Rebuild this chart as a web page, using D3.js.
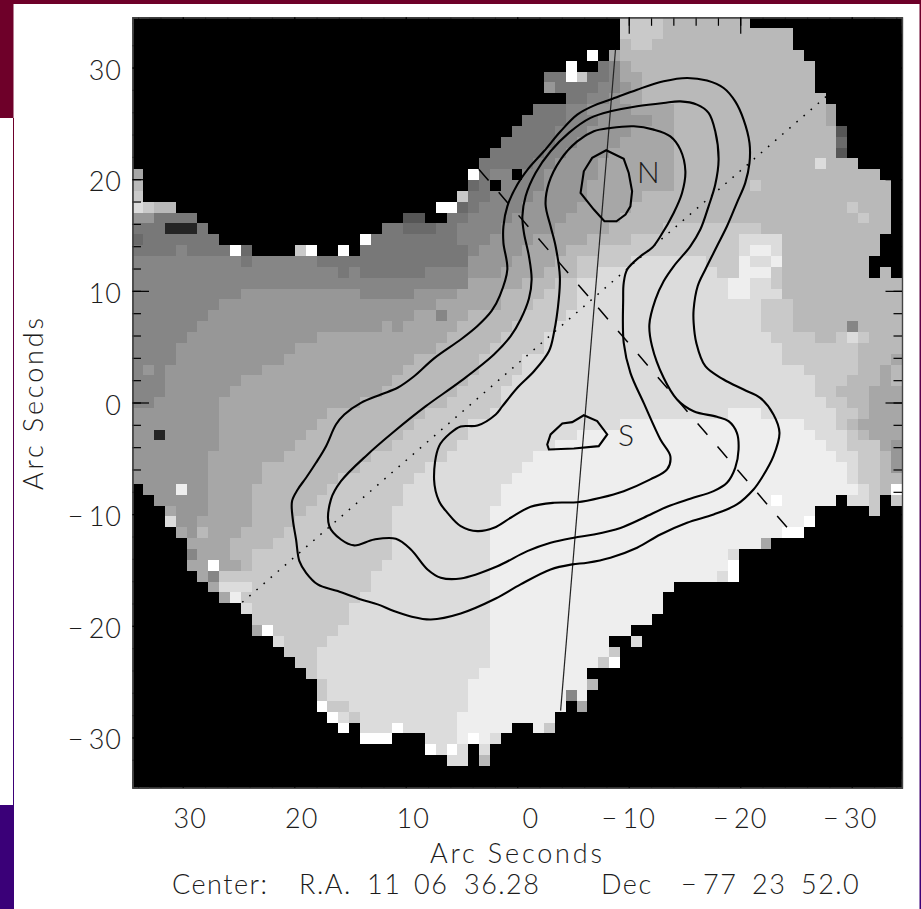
<!DOCTYPE html>
<html>
<head>
<meta charset="utf-8">
<title>Arc Seconds map</title>
<script src="https://cdn.jsdelivr.net/npm/d3@7"></script>
<style>
    html,body{margin:0;padding:0;background:#fff;overflow:hidden;}
    text{font-family:"Lato","Open Sans",sans-serif;font-weight:300;fill:#1c1c1c;}
</style>
</head>
<body>
<div id="main"></div>
<script>
// gray levels of the map
const levelNames = ["Z","A","B","C","D","E","F","G","I","J","K","L","W"];
const levelGrays = ["#000000","#252525","#565656","#6a6a6a","#787878","#868686","#979797","#a7a7a7","#b9b9b9","#c9c9c9","#dcdcdc","#eeeeee","#ffffff"];

// one line per map row, "start column + level"
const mapRows = [
    "0Z 45J 49I 57Z",
    "0Z 45J 49I 61Z",
    "0Z 45I 46J 48I 61Z",
    "0Z 42W 43Z 44G 45I 62Z",
    "0Z 40W 41Z 43D 44E 45G 46I 63Z",
    "0Z 38D 40W 41J 42D 44E 45G 47I 63Z",
    "0Z 38F 39D 43E 45F 46G 47I 63Z",
    "0Z 40D 42E 44F 45G 47I 64Z",
    "0Z 37D 40E 42F 46G 50I 64G 65Z",
    "0Z 36D 40E 43F 48G 50I 64G 65Z",
    "0Z 35D 39E 42F 46G 50I 65B 66Z",
    "0Z 34D 39E 41F 45G 50I 65C 66Z",
    "0Z 33D 38E 40F 44G 50I 65B 66Z",
    "0Z 32D 37E 39F 43G 50I 63K 64I 67Z",
    "0G 1Z 31W 32D 33E 35Z 36E 38F 43G 50I 69Z",
    "0I 1Z 31C 32D 33Z 34E 38F 42G 50I 57J 58I 70Z",
    "0J 1Z 30J 31D 33E 37F 42G 47I 70Z",
    "0K 1J 2I 4Z 28W 30C 31D 32E 36F 41G 46I 66J 67I 70Z",
    "0F 2D 6Z 25B 27Z 29D 31E 35F 40G 45I 67J 68I 70Z",
    "0D 3A 6D 7Z 23D 25C 28D 30E 34F 39G 44I 49J 58I 70Z",
    "0C 1D 8Z 21W 22D 30E 33F 37G 42I 46J 56K 60I 69Z",
    "0D 4E 5D 9W 10C 11Z 15J 16W 17Z 19W 20Z 21D 31E 32F 36G 40I 43J 56K 57L 59K 60I 69Z",
    "0E 10D 11E 17D 31F 35G 39I 41J 46K 53J 56L 57K 59L 60I 68Z",
    "0E 19D 20E 21D 27E 31F 34G 38I 41J 43K 54J 56L 59J 60I 68Z 69I 70Z",
    "0E 31G 36I 39J 41K 55L 57K 59J 60I",
    "0E 10F 21E 26F 30G 34I 38J 41K 55L 57K 60I",
    "0E 8F 28G 34I 37J 41K 58J 61I",
    "0E 7F 26G 28E 29G 31I 36J 40K 58J 61I",
    "0E 6F 23G 24F 25G 30I 35J 39K 58J 61I 66E 67I",
    "0E 5F 17G 29I 34J 38K 59J 63I 65J 66K 67J 68I",
    "0E 4F 15G 28I 33J 38K 60J 67I",
    "0E 4F 14G 26I 32J 36K 60J 67I 70G",
    "0E 1F 2E 3F 12G 25I 32J 36K 62J 67I 69G 70I",
    "0E 3F 10G 24I 31J 35K 63J 66I 69G 70I",
    "0E 3F 9G 23I 30J 34K 63J 65I 68G",
    "0E 2F 8G 21I 29J 34K 64J 66I 68G",
    "0F 8G 18I 27J 33K 55L 58K 65J 67I 68G",
    "0F 8G 17I 26J 31K 45L 62K 65J 66I 67G",
    "0F 2A 3F 8G 16I 25J 31K 41L 63K 66J 67I 68G",
    "0F 8G 15I 24J 30K 39L 64K 66J 69G 70F",
    "0F 7G 14I 22J 29K 37L 65K 67J 69I 70F",
    "0F 7G 12I 21J 27K 36L 66K 67J 69I 70F",
    "0F 7G 12I 19J 26K 35L 66K 67J 69I",
    "0Z 1F 4L 5F 7G 11I 18J 25K 34L 67K 68J 69I 70W",
    "0Z 2F 7G 11I 17J 25K 34L 59W 60L 65Z 66K 68J 69Z 70J",
    "0Z 3G 4F 7G 11I 16J 24K 33L 63Z 68J 69Z",
    "0Z 3K 4F 6G 11I 15J 24K 33L 62W 63Z",
    "0Z 4G 5F 6I 7G 10I 14J 24K 33L 60W 62Z",
    "0Z 5G 9I 13J 24K 33L 58G 59Z",
    "0Z 5E 6G 9I 11J 24K 33L 55K 56Z",
    "0Z 5G 7W 8G 10I 11J 23K 33L 55W 56Z",
    "0Z 6G 7E 8J 22K 33L 54K 55W 56Z",
    "0Z 7G 8K 11J 22K 33L 50Z",
    "0Z 8G 9L 10J 21K 33L 49Z",
    "0Z 10K 11J 20K 33L 49Z",
    "0Z 11J 20K 33L 48Z",
    "0Z 11G 12W 13J 19K 33L 46Z",
    "0Z 13K 14J 18K 33L 44Z 46K 47Z",
    "0Z 14J 17K 33L 44J 45Z",
    "0Z 15J 17K 33L 43J 44W 45Z",
    "0Z 16J 17K 32L 42Z",
    "0Z 17J 18K 31L 42I 43Z",
    "0Z 17J 18K 31L 40E 41L 42Z",
    "0Z 17W 18J 20K 31L 40Z 41G 42Z",
    "0Z 18W 19K 20J 21K 30L 39Z",
    "0Z 19W 20Z 21K 24W 25K 30L 35Z 37L 38J 39Z",
    "0Z 21W 24Z 27K 30L 31W 32L 33K 34Z",
    "0Z 27W 28K 29W 30K 31Z 32K 33Z",
    "0Z 29K 31Z 32I 33Z",
    "0Z",
    "0Z"
];

// contours, [arcsec x, arcsec y]
const contourOuter = [[1.55,9.6],[0.89,11.91],[1.24,14.30],[1.24,15.78],[0.89,17.57],[-0.01,19.52],[-1.05,21.01],[-2.39,22.50],[-3.89,24.29],[-5.38,25.78],[-6.87,26.59],[-8.36,27.13],[-10.75,28.02],[-13.13,28.77],[-15.23,29.07],[-17.02,28.83],[-18.51,28.17],[-19.55,26.97],[-20.30,25.34],[-20.83,23.25],[-20.83,21.46],[-20.45,19.67],[-19.70,17.88],[-18.81,15.78],[-17.91,13.99],[-16.87,11.91],[-16.18,10.41],[-15.82,8.33],[-15.82,7.14],[-16.06,5.34],[-16.87,3.25],[-18.51,2.06],[-20.30,1.16],[-21.79,0.42],[-22.98,-1.07],[-23.52,-2.71],[-22.98,-4.81],[-21.94,-6.74],[-21.19,-7.79],[-19.70,-9.13],[-17.61,-10.03],[-15.23,-10.77],[-12.84,-11.82],[-10.75,-13.01],[-8.36,-13.90],[-6.28,-14.35],[-4.93,-14.50],[-2.99,-14.95],[-0.30,-16.29],[1.93,-17.55],[5.07,-18.89],[7.75,-19.43],[9.54,-19.16],[11.07,-18.68],[12.52,-18.08],[14.02,-17.64],[16.10,-16.89],[17.90,-16.29],[18.94,-15.25],[19.54,-14.21],[19.84,-12.26],[20.13,-10.47],[20.20,-8.84],[19.69,-7.79],[18.94,-6.74],[18.05,-5.40],[17.15,-3.91],[16.26,-1.97],[15.51,-1.07],[14.02,-0.03],[12.23,0.72],[10.73,1.32],[9.25,2.35],[7.46,3.95],[5.07,5.64],[3.57,6.85],[2.3,8.2]];
const contourMiddle = [[-1.05,9.31],[-1.29,11.01],[-1.05,13.10],[-0.60,15.19],[-0.46,16.68],[-0.75,18.47],[-1.65,20.57],[-2.99,22.50],[-4.63,24.15],[-6.57,25.49],[-8.36,26.08],[-10.75,26.53],[-13.13,26.83],[-14.63,26.97],[-16.12,26.68],[-17.16,25.94],[-17.76,24.29],[-18.06,21.76],[-17.76,19.52],[-17.16,17.57],[-16.42,15.49],[-15.52,13.99],[-14.03,12.20],[-13.13,10.86],[-12.39,9.22],[-11.85,6.98],[-12.09,5.04],[-13.13,2.21],[-14.33,0.27],[-15.82,-0.78],[-17.91,-1.28],[-18.95,-1.67],[-19.70,-2.71],[-19.85,-4.21],[-19.55,-5.85],[-18.81,-7.19],[-17.61,-7.94],[-15.52,-8.62],[-13.44,-9.34],[-11.34,-10.32],[-9.26,-11.23],[-6.87,-11.82],[-5.08,-12.11],[-2.99,-12.56],[-0.90,-13.31],[1.78,-14.66],[5.07,-15.76],[6.86,-15.69],[8.05,-14.95],[9.54,-13.16],[10.89,-12.20],[12.83,-12.27],[14.62,-12.80],[15.81,-12.27],[16.86,-11.07],[16.71,-8.68],[15.81,-7.05],[13.42,-4.65],[11.18,-2.71],[8.20,-0.33],[5.07,1.91],[2.09,4.30],[0.59,5.94],[-0.30,7.43]];
const contourInner = [[-3.73,9.31],[-3.82,11.31],[-3.44,13.99],[-2.99,15.78],[-2.54,17.73],[-2.84,19.67],[-3.89,21.76],[-5.38,23.39],[-6.87,24.29],[-8.36,24.59],[-10.45,24.74],[-12.24,24.44],[-13.73,23.84],[-14.63,22.65],[-15.08,20.71],[-14.78,18.77],[-14.03,16.98],[-12.84,14.89],[-12.09,13.85],[-11.05,13.10],[-9.86,11.91],[-9.55,10.72],[-9.50,9.22],[-9.55,5.34],[-10.15,2.66],[-11.34,-0.03],[-12.84,-3.31],[-13.73,-4.81],[-13.44,-6.00],[-11.94,-6.89],[-9.55,-7.94],[-7.47,-8.53],[-5.38,-8.93],[-3.29,-8.98],[-1.20,-9.34],[0.59,-10.32],[2.09,-11.22],[3.57,-11.52],[5.07,-11.07],[6.26,-9.88],[7.01,-8.84],[7.46,-6.89],[7.01,-3.91],[5.96,-2.71],[5.07,-2.15],[3.57,-2.06],[1.93,-1.07],[1.33,-0.33],[-0.01,1.32],[-1.50,2.80],[-2.84,4.59],[-3.29,6.24]];
const contourNorth = [[-7.98,22.59],[-9.55,21.82],[-10.00,20.56],[-10.30,18.92],[-10.15,17.57],[-9.71,16.83],[-8.90,16.23],[-7.82,16.23],[-6.87,17.28],[-5.68,18.77],[-5.97,20.71],[-6.72,21.91]];
const contourSouth = [[-5.97,-1.14],[-7.17,-1.67],[-8.07,-2.86],[-7.31,-3.91],[-5.08,-4.12],[-2.84,-4.21],[-2.69,-3.76],[-2.99,-2.86],[-4.04,-1.88],[-4.93,-1.76]];

// the three straight lines
const solidLine = [[-8.81,31.6],[-3.89,-27.6]];
const dottedLine = [[-27.7,27.4],[24.9,-18.1]];
const dashedLine = [[3.45,20.9],[-24.9,-12.0]];

const majorTicks = [30,20,10,0,-10,-20,-30];
const minorTicks = d3.range(-34,35,2);
const xLabelShift = [7.5,7.5,7.5,13.5,0,0,-1.5];

const axisTitle = "Arc Seconds";
const captionWords = ["Center:","R.A.","11","06","36.28","Dec","\u2212\u200977","23","52.0"];
const captionStart = [172,299,367,414,464,601,681,752,801];

const width = 921, height = 909;
const left = 132.5, right = 902, top_ = 17.3, bottom = 787.7;

const xScale = d3.scaleLinear().domain([34.5,-34.5]).range([left+0.1,right-0.1]);
const yScale = d3.scaleLinear().domain([34.5,-34.5]).range([top_,bottom]);

const svg = d3.select("#main").append("svg").attr("width",width).attr("height",height).style("display","block");

drawSlide();
drawMap();
drawOverlay();
drawAxes();
drawTexts();

function drawSlide(){
    var defs = svg.append("defs");
    var grad = defs.append("linearGradient").attr("id","edge").attr("x1",0).attr("x2",0).attr("y1",0).attr("y2",1);
    grad.append("stop").attr("offset","0%").attr("stop-color","#6e0029");
    grad.append("stop").attr("offset","100%").attr("stop-color","#3a0078");

    svg.append("rect").attr("x",0).attr("y",0).attr("width",width).attr("height",4).attr("fill","#6e0029");
    svg.append("rect").attr("x",0).attr("y",0).attr("width",13.5).attr("height",118).attr("fill","#6e0029");
    svg.append("rect").attr("x",13).attr("y",118).attr("width",1).attr("height",687).attr("fill","url(#edge)");
    svg.append("rect").attr("x",0).attr("y",805).attr("width",14).attr("height",104).attr("fill","#3a0078");
    svg.append("rect").attr("x",919.5).attr("y",0).attr("width",1.5).attr("height",height).attr("fill","url(#edge)");
}

function drawMap(){
    var col = d3.scaleBand().domain(d3.range(71)).range([left,left+71*10.83]);
    var row = d3.scaleBand().domain(d3.range(71)).range([top_,top_+71*10.85]);
    var gray = d3.scaleOrdinal().domain(levelNames).range(levelGrays);

    svg.append("rect").attr("x",left).attr("y",top_).attr("width",right-left).attr("height",bottom-top_).attr("fill","#000");

    var cells = [];
    mapRows.forEach(function(line,r){
        var runs = line.split(" ").map(function(s){
            return {start:+s.slice(0,-1),level:s.slice(-1)};
        });
        runs.forEach(function(run,i){
            var end = i<runs.length-1 ? runs[i+1].start : 71;
            for(var c=run.start;c<end;c++){
                cells.push({r:r,c:c,level:run.level});
            }
        });
    });

    svg.append("g").attr("shape-rendering","crispEdges")
        .selectAll("rect").data(cells).enter().append("rect")
        .attr("x",function(d){return col(d.c);})
        .attr("y",function(d){return row(d.r);})
        .attr("width",col.bandwidth()+0.5)
        .attr("height",row.bandwidth()+0.5)
        .attr("fill",function(d){return gray(d.level);});
}

function drawOverlay(){
    var line = d3.line().x(function(d){return xScale(d[0]);}).y(function(d){return yScale(d[1]);});
    var smooth = d3.line().x(function(d){return xScale(d[0]);}).y(function(d){return yScale(d[1]);}).curve(d3.curveCatmullRomClosed.alpha(0.5));
    var closed = d3.line().x(function(d){return xScale(d[0]);}).y(function(d){return yScale(d[1]);}).curve(d3.curveLinearClosed);

    var g = svg.append("g").attr("fill","none").attr("stroke","#000");
    g.append("path").attr("d",line(solidLine)).attr("stroke-width",1.2).attr("stroke","#222");
    g.append("path").attr("d",line(dottedLine)).attr("stroke-width",1.5).attr("stroke-dasharray","1.6 7.8");
    g.append("path").attr("d",line(dashedLine)).attr("stroke-width",1.5).attr("stroke-dasharray","15 15.5");

    [contourOuter,contourMiddle,contourInner].forEach(function(c){
        g.append("path").attr("d",smooth(c)).attr("stroke-width",2.1);
    });
    [contourNorth,contourSouth].forEach(function(c){
        g.append("path").attr("d",closed(c)).attr("stroke-width",2.1);
    });

    svg.append("text").attr("x",xScale(-11.76)).attr("y",yScale(19.7)).attr("text-anchor","middle").attr("font-size",30).text("N");
    svg.append("text").attr("x",xScale(-9.75)).attr("y",yScale(-3.94)).attr("text-anchor","middle").attr("font-size",30).text("S");
}

function drawAxes(){
    function side(axis,scale,size,pos,ticks,isX){
        var g = svg.append("g")
            .attr("transform",isX ? "translate(0,"+pos+")" : "translate("+pos+",0)")
            .call(axis(scale).tickValues(ticks).tickSize(size).tickFormat(""));
        g.selectAll(".tick line").attr("stroke","#000").attr("stroke-width",1.2);
        g.select(".domain").attr("stroke","#444").attr("stroke-width",1.2);
        g.selectAll("text").remove();
    }
    // ticks are black and point inwards, so they only show on the gray parts of the map
    side(d3.axisLeft,yScale,-8.5,left,minorTicks,false);
    side(d3.axisLeft,yScale,-16.5,left,majorTicks,false);
    side(d3.axisRight,yScale,-8.5,right,minorTicks,false);
    side(d3.axisRight,yScale,-16.5,right,majorTicks,false);
    side(d3.axisTop,xScale,-8.5,top_,minorTicks,true);
    side(d3.axisTop,xScale,-16.5,top_,majorTicks,true);
    side(d3.axisBottom,xScale,-8.5,bottom,minorTicks,true);
    side(d3.axisBottom,xScale,-16.5,bottom,majorTicks,true);
}

function tickText(v){
    return v<0 ? "\u2212\u2009"+Math.abs(v) : ""+v;
}

function drawTexts(){
    svg.append("g").selectAll("text").data(majorTicks).enter().append("text")
        .attr("x",122).attr("y",function(d){return yScale(d)+12;})
        .attr("text-anchor","end").attr("font-size",27).attr("letter-spacing",1)
        .text(tickText);

    svg.append("g").selectAll("text").data(majorTicks).enter().append("text")
        .attr("x",function(d,i){return xScale(d)+xLabelShift[i];}).attr("y",828)
        .attr("text-anchor","middle").attr("font-size",27).attr("letter-spacing",1)
        .text(tickText);

    svg.append("text").attr("x",430).attr("y",863).attr("font-size",27)
        .attr("textLength",172).attr("lengthAdjust","spacing").text(axisTitle);

    svg.append("text").attr("transform","translate(43,490) rotate(-90)").attr("font-size",27)
        .attr("textLength",172).attr("lengthAdjust","spacing").text(axisTitle);

    svg.append("g").selectAll("text").data(captionWords).enter().append("text")
        .attr("x",function(d,i){return captionStart[i];}).attr("y",894)
        .attr("font-size",27).attr("letter-spacing",1.5)
        .text(function(d){return d;});
}
</script>
</body>
</html>
